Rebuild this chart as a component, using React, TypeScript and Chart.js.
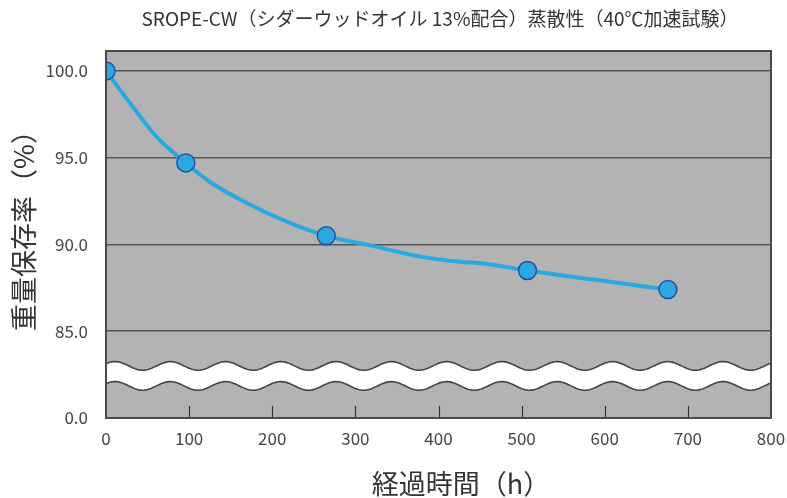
import React, { useEffect, useRef } from 'react';
import { Chart, registerables } from 'chart.js';
Chart.register(...registerables);

const TITLE = 'SROPE-CW（シダーウッドオイル 13%配合）蒸散性（40℃加速試験）';
const X_TITLE = '経過時間（h）';
const Y_TITLE = '重量保存率（%）';

// measured points (markers)
const hours = [0, 96, 265, 507, 676];
const retention = [100.0, 94.7, 90.5, 88.5, 87.4];

// fitted curve
const curveHours = [0, 32, 61, 96, 125, 173, 218, 265, 318, 378, 426, 454, 507, 591, 676];
const curveRetention = [100.0, 97.95, 96.2, 94.7, 93.6, 92.3, 91.3, 90.5, 89.95, 89.3, 89.0, 88.9, 88.5, 87.95, 87.4];

const xTicks = [0, 100, 200, 300, 400, 500, 600, 700, 800];
const yTicks = [80, 85, 90, 95, 100];
const yTickLabels = ['0.0', '85.0', '90.0', '95.0', '100.0'];

const FONT = "'Noto Sans CJK JP', 'Noto Sans', sans-serif";
const JP_FONT = "'Noto Sans CJK JP', 'Noto Sans', sans-serif";

const decorPlugin = {
  id: 'decor',
  beforeDraw(chart: any) {
    const { ctx, chartArea: a } = chart;
    ctx.save();
    ctx.fillStyle = '#b3b3b3';
    ctx.fillRect(a.left, a.top, a.right - a.left, a.bottom - a.top);
    ctx.restore();
  },
  beforeDatasetsDraw(chart: any) {
    const { ctx, chartArea: a, scales } = chart;
    const xs = scales.x;
    const ys = scales.y;
    ctx.save();
    ctx.strokeStyle = '#333';
    ctx.lineWidth = 1.2;
    for (const t of xTicks) {
      if (t === 0 || t === 800) continue;
      const px = Math.round(xs.getPixelForValue(t)) + 0.5;
      ctx.beginPath();
      ctx.moveTo(px, a.bottom);
      ctx.lineTo(px, a.bottom - 12);
      ctx.stroke();
    }
    const topC = ys.getPixelForValue(83.0);
    const botC = ys.getPixelForValue(81.85);
    const amp = 4.3;
    const period = xs.getPixelForValue(66.5) - xs.getPixelForValue(0);
    const x0 = xs.getPixelForValue(10.8);
    const wy = (c: number, x: number) => c - amp * Math.cos((2 * Math.PI * (x - x0)) / period);
    ctx.beginPath();
    ctx.rect(a.left, a.top, a.right - a.left, a.bottom - a.top);
    ctx.clip();
    ctx.beginPath();
    for (let x = a.left; x <= a.right; x += 1) {
      const y = wy(topC, x);
      if (x === a.left) ctx.moveTo(x, y); else ctx.lineTo(x, y);
    }
    for (let x = a.right; x >= a.left; x -= 1) ctx.lineTo(x, wy(botC, x));
    ctx.closePath();
    ctx.fillStyle = '#ffffff';
    ctx.fill();
    ctx.strokeStyle = '#444';
    ctx.lineWidth = 1.6;
    for (const c of [topC, botC]) {
      ctx.beginPath();
      for (let x = a.left; x <= a.right; x += 1) {
        const y = wy(c, x);
        if (x === a.left) ctx.moveTo(x, y); else ctx.lineTo(x, y);
      }
      ctx.stroke();
    }
    ctx.restore();
  },
  afterDraw(chart: any) {
    const { ctx, chartArea: a } = chart;
    ctx.save();
    ctx.strokeStyle = '#4a4a4a';
    ctx.lineWidth = 2;
    ctx.strokeRect(a.left, a.top, a.right - a.left, a.bottom - a.top);
    ctx.fillStyle = '#333';
    ctx.textAlign = 'center';
    ctx.textBaseline = 'middle';
    ctx.font = `19px ${JP_FONT}`;
    ctx.fillText(TITLE, 440, 19);
    ctx.font = `27px ${JP_FONT}`;
    ctx.fillText(X_TITLE, 461, 484);
    ctx.translate(24, 224);
    ctx.rotate(-Math.PI / 2);
    ctx.fillText(Y_TITLE, 0, 0);
    ctx.restore();
  },
};

export default function App() {
  const ref = useRef<HTMLCanvasElement>(null);
  useEffect(() => {
    if (!ref.current) return;
    const chart = new Chart(ref.current, {
      type: 'line',
      data: {
        datasets: [
          {
            label: 'points',
            data: hours.map((h, i) => ({ x: h, y: retention[i] })),
            showLine: false,
            pointRadius: 9,
            pointHoverRadius: 9,
            pointBackgroundColor: '#29a8e2',
            pointBorderColor: '#2a4f9e',
            pointBorderWidth: 1.5,
            order: 0,
          },
          {
            label: 'curve',
            data: curveHours.map((h, i) => ({ x: h, y: curveRetention[i] })),
            borderColor: '#29a8e2',
            borderWidth: 4,
            pointRadius: 0,
            cubicInterpolationMode: 'monotone',
            fill: false,
            order: 1,
          },
        ],
      },
      options: {
        animation: false,
        responsive: false,
        maintainAspectRatio: false,
        layout: { padding: { top: 51, right: 0, left: 0, bottom: 0 } },
        plugins: { legend: { display: false }, tooltip: { enabled: false }, title: { display: false } },
        scales: {
          x: {
            type: 'linear',
            min: 0,
            max: 800,
            afterBuildTicks: (s: any) => { s.ticks = xTicks.map((v) => ({ value: v })); },
            afterFit: (s: any) => { s.height = 80; s.paddingRight = 16; },
            grid: { display: false, drawTicks: false },
            border: { display: false },
            ticks: {
              color: '#444',
              font: { family: FONT, size: 17 },
              padding: 10,
              maxRotation: 0,
              callback: (v: any) => String(v),
            },
          },
          y: {
            type: 'linear',
            min: 80,
            max: 101.15,
            afterBuildTicks: (s: any) => { s.ticks = yTicks.map((v) => ({ value: v })); },
            afterFit: (s: any) => { s.width = 106; },
            grid: {
              drawTicks: false,
              color: (c: any) => (c.tick && c.tick.value === 80 ? 'rgba(0,0,0,0)' : '#555'),
              lineWidth: 1.5,
            },
            border: { display: false },
            ticks: {
              color: '#444',
              font: { family: FONT, size: 17 },
              padding: 18,
              callback: (v: any) => {
                const i = yTicks.indexOf(v);
                return i >= 0 ? yTickLabels[i] : '';
              },
            },
          },
        },
      },
      plugins: [decorPlugin],
    } as any);
    return () => chart.destroy();
  }, []);
  return (
    <div style={{ position: 'fixed', left: 0, top: 0, width: 787, height: 498, background: '#fff' }}>
      <canvas ref={ref} width={787} height={498} style={{ width: 787, height: 498 }} />
    </div>
  );
}
